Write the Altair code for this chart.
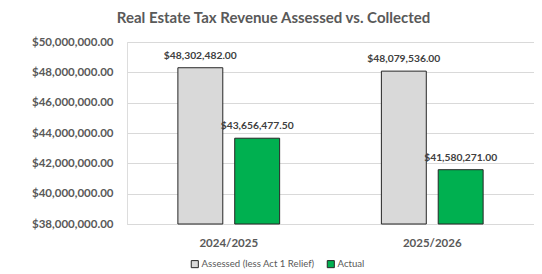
import altair as alt
import pandas as pd

years = ["2024/2025", "2024/2025", "2025/2026", "2025/2026"]
series = ["Assessed (less Act 1 Relief)", "Actual", "Assessed (less Act 1 Relief)", "Actual"]
values = [48302482.00, 43656477.50, 48079536.00, 41580271.00]
series_order = ["Assessed (less Act 1 Relief)", "Actual"]
colors = ["#d9d9d9", "#00b050"]
y_ticks = [38000000, 40000000, 42000000, 44000000, 46000000, 48000000, 50000000]

df = pd.DataFrame({"year": years, "series": series, "value": values})

FONT = "Lato"
TXT = "#595959"

x = alt.X("year:N", title=None,
          scale=alt.Scale(paddingInner=0.5, paddingOuter=0.25),
          axis=alt.Axis(labelAngle=0, ticks=False, domain=True, domainColor="#d9d9d9",
                        labelFont=FONT, labelFontSize=11.5, labelFontWeight="bold",
                        labelColor=TXT, labelPadding=13, grid=False))
xo = alt.XOffset("series:N", sort=series_order,
                 scale=alt.Scale(paddingInner=0.21, paddingOuter=0))
y = alt.Y("value:Q", title=None,
          scale=alt.Scale(domain=[38000000, 50000000], nice=False, zero=False, clamp=True),
          axis=alt.Axis(values=y_ticks, format="$,.2f", domain=False, ticks=False,
                        gridColor="#d9d9d9", gridWidth=1, labelOverlap=False,
                        labelFont=FONT, labelFontSize=11.5, labelFontWeight="bold",
                        labelColor=TXT, labelPadding=14))

bars = alt.Chart(df).mark_bar(stroke="#262626", strokeWidth=1).encode(
    x=x, xOffset=xo, y=y,
    color=alt.Color("series:N", sort=series_order,
                    scale=alt.Scale(domain=series_order, range=colors),
                    legend=alt.Legend(title=None, orient="none", direction="horizontal",
                                      legendX=63, legendY=217, symbolType="square",
                                      symbolSize=50, symbolStrokeColor="#262626",
                                      symbolStrokeWidth=1, labelFont=FONT,
                                      labelFontSize=9.6, labelColor=TXT,
                                      columnPadding=10, symbolOffset=0,
                                      labelOffset=2)),
)

labels = alt.Chart(df).mark_text(baseline="bottom", dy=-7, font=FONT, fontSize=10.3,
                                 fontWeight="bold", color="#404040").encode(
    x=x, xOffset=xo, y=y,
    text=alt.Text("value:Q", format="$,.2f"),
)

chart = alt.layer(bars, labels).properties(
    width=407, height=182,
    autosize=alt.AutoSizeParams(type="none"),
    padding={"left": 119, "top": 34, "right": 0, "bottom": 50},
    title=alt.TitleParams("Real Estate Tax Revenue Assessed vs. Collected",
                          font=FONT, fontSize=15, fontWeight="bold", color=TXT,
                          anchor="middle", dx=-57, offset=10),
).configure_view(stroke=None).configure(background="white")

chart.save("out.html", embed_options={"renderer": "svg", "actions": False})
